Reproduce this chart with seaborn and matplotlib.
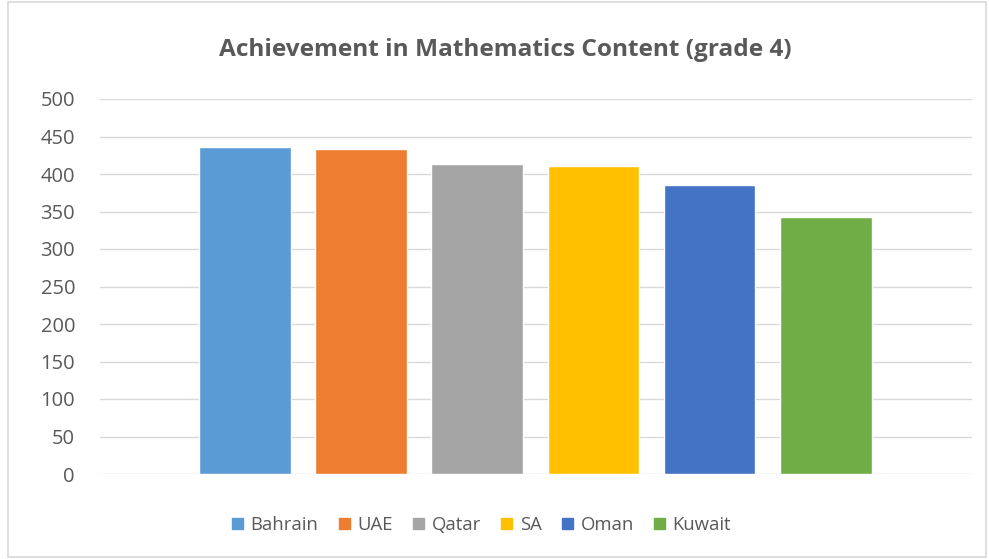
import seaborn as sns
import pandas as pd
import matplotlib.pyplot as plt
from matplotlib.patches import Rectangle

# Data
countries = ["Bahrain", "UAE", "Qatar", "SA", "Oman", "Kuwait"]
scores = [436, 433, 413, 411, 385, 343]
colors = ["#5B9BD5", "#ED7D31", "#A5A5A5", "#FFC000", "#4472C4", "#70AD47"]

df = pd.DataFrame({"country": countries, "score": scores})

sns.set_style("white")
plt.rcParams["font.family"] = ["Open Sans", "DejaVu Sans"]
text_color = "#595959"

fig = plt.figure(figsize=(9.89, 5.59), dpi=100)
ax = fig.add_axes([100 / 989, 1 - 474 / 559, 872 / 989, 375 / 559])

sns.barplot(data=df, x="country", y="score", hue="country",
            palette=colors, width=0.79, saturation=1, legend=False, ax=ax)

ax.set_ylim(0, 500)
ax.set_yticks(range(0, 501, 50))
ax.set_xlim(-1.25, 6.26)
ax.set_xticks([])
ax.set_xlabel("")
ax.set_ylabel("")
ax.grid(axis="y", color="#D9D9D9", linewidth=1)
ax.set_axisbelow(True)
for s in ax.spines.values():
    s.set_visible(False)
ax.tick_params(axis="y", length=0, pad=18, labelsize=14.5, labelcolor=text_color)

# Legend
handles = [Rectangle((0, 0), 1, 1, color=c) for c in colors]
fig.legend(handles, countries, loc="center", bbox_to_anchor=(0.487, 1 - 525 / 559),
           ncol=6, frameon=False, fontsize=13.3, labelcolor=text_color,
           handlelength=0.6, handleheight=0.6, handletextpad=0.4, columnspacing=1.1)

fig.text(0.511, 1 - 50 / 559, "Achievement in Mathematics Content (grade 4)",
         ha="center", va="center", fontsize=17.6, fontweight="bold", color=text_color)

# chart border
fig.patches.append(Rectangle((8 / 989, 2 / 559), 978 / 989, 555 / 559,
                             transform=fig.transFigure, fill=False,
                             edgecolor="#D9D9D9", linewidth=1.2))

fig.savefig("out.png", dpi=100)
